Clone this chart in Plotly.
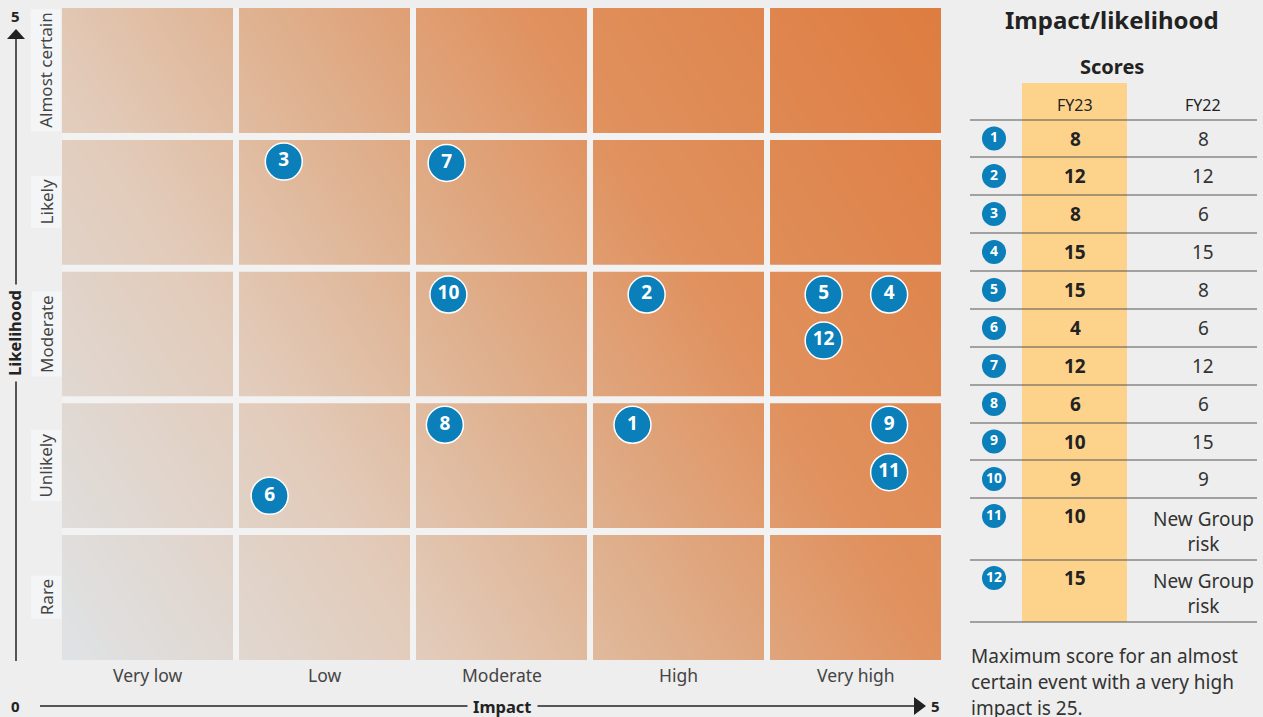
import plotly.graph_objects as go

# ---------------- data ----------------
impact_labels = ["Very low", "Low", "Moderate", "High", "Very high"]
likelihood_labels = ["Rare", "Unlikely", "Moderate", "Likely", "Almost certain"]

risk_ids = [1, 2, 3, 4, 5, 6, 7, 8, 9, 10, 11, 12]
risk_impact = [3.24, 3.32, 1.27, 4.69, 4.32, 1.19, 2.19, 2.18, 4.69, 2.20, 4.69, 4.32]
risk_likelihood = [1.81, 2.80, 3.81, 2.80, 2.80, 1.27, 3.80, 1.81, 1.81, 2.80, 1.45, 2.45]

fy23_scores = [8, 12, 8, 15, 15, 4, 12, 6, 10, 9, 10, 15]
fy22_scores = ["8", "12", "6", "15", "8", "6", "12", "6", "15", "9",
               "New Group<br>risk", "New Group<br>risk"]

# gradient corner levels (bottom-left, bottom-right / top-left, top-right)
grad_z = [[0.0, 0.68], [0.32, 1.0]]

# ---------------- style ----------------
FONT = "Noto Sans"
BG = "#eeeeee"
GAP = "#f2f2f2"
BLUE = "#0a7fba"
TXT = "#333333"
W, H = 1263, 717

fig = go.Figure()

fig.add_trace(go.Heatmap(
    x=[0, 5], y=[0, 5], z=grad_z, zsmooth="best", zmin=0, zmax=1,
    colorscale=[[0, "#dfe3e6"], [0.3, "#e2cab8"], [0.47, "#dfb18f"],
                [0.68, "#e0915e"], [1, "#de7c40"]],
    showscale=False, hoverinfo="skip"))

fig.add_trace(go.Scatter(
    x=risk_impact, y=risk_likelihood, mode="markers+text",
    text=[f"<b>{i}</b>" for i in risk_ids], textposition="middle center",
    textfont=dict(color="white", size=19, family=FONT),
    marker=dict(size=37, color=BLUE, line=dict(color="white", width=1.5)),
    hoverinfo="skip", showlegend=False))

# table geometry (pixel overlay axes)
table_lines_y = [120, 157, 195, 233, 271, 309, 347, 385, 423, 460, 498, 560, 622]
row_text_y = []
for k in range(12):
    top, bot = table_lines_y[k], table_lines_y[k + 1]
    row_text_y.append((top + bot) / 2 if bot - top < 45 else top + 18)

fig.add_trace(go.Scatter(
    x=[994] * len(risk_ids), y=row_text_y, xaxis="x2", yaxis="y2",
    mode="markers+text", text=[f"<b>{i}</b>" for i in risk_ids],
    textposition="middle center",
    textfont=dict(color="white", size=14, family=FONT),
    marker=dict(size=24, color=BLUE, line=dict(width=0)),
    hoverinfo="skip", showlegend=False))

shapes = []
ann = []

# cell gaps
for i in range(1, 5):
    shapes.append(dict(type="line", xref="x", yref="y", x0=i, x1=i, y0=0, y1=5,
                       line=dict(color=GAP, width=6), layer="above"))
    shapes.append(dict(type="line", xref="x", yref="y", x0=0, x1=5, y0=i, y1=i,
                       line=dict(color=GAP, width=7), layer="above"))
shapes.append(dict(type="rect", xref="x", yref="y", x0=0, x1=5, y0=0, y1=5,
                   line=dict(color=BG, width=6), layer="above"))

# axis arrows
AX = "#222222"
shapes += [
    dict(type="line", xref="x2", yref="y2", x0=16, x1=16, y0=661, y1=37,
         line=dict(color=AX, width=1.5)),
    dict(type="path", xref="x2", yref="y2", path="M 7,39 L 25,39 L 16,29 Z",
         fillcolor=AX, line=dict(width=0)),
    dict(type="line", xref="x2", yref="y2", x0=40, x1=916, y0=706, y1=706,
         line=dict(color=AX, width=1.5)),
    dict(type="path", xref="x2", yref="y2", path="M 914,697 L 914,715 L 926,706 Z",
         fillcolor=AX, line=dict(width=0)),
]

# table column highlight and lines
shapes.append(dict(type="rect", xref="x2", yref="y2", x0=1022, x1=1127, y0=83, y1=622,
                   fillcolor="#fdd38c", line=dict(width=0), layer="below"))
for yl in table_lines_y:
    shapes.append(dict(type="line", xref="x2", yref="y2", x0=970, x1=1257, y0=yl, y1=yl,
                       line=dict(color="#555555", width=1.2)))

# y category labels
for j, lab in enumerate(likelihood_labels):
    ann.append(dict(xref="x2", yref="y", x=46, y=j + 0.5, text=lab, textangle=-90,
                    showarrow=False, font=dict(family=FONT, size=17, color="#444444"),
                    bgcolor="#f4f5f7", borderpad=3))
# x category labels
for i, lab in enumerate(impact_labels):
    ann.append(dict(xref="x", yref="y2", x=i + 0.5, y=675, text=lab, showarrow=False,
                    font=dict(family=FONT, size=17.5, color="#444444")))

# axis titles and ends
ann += [
    dict(xref="x2", yref="y2", x=14, y=333, text="<b>Likelihood</b>", textangle=-90,
         showarrow=False, bgcolor=BG, borderpad=5,
         font=dict(family=FONT, size=16.5, color="#222222")),
    dict(xref="x2", yref="y2", x=502, y=706, text="<b>Impact</b>", showarrow=False,
         bgcolor=BG, borderpad=5, font=dict(family=FONT, size=16.5, color="#222222")),
    dict(xref="x2", yref="y2", x=15, y=16, text="<b>5</b>", showarrow=False,
         font=dict(family=FONT, size=15, color="#222222")),
    dict(xref="x2", yref="y2", x=15, y=706, text="<b>0</b>", showarrow=False,
         font=dict(family=FONT, size=15, color="#222222")),
    dict(xref="x2", yref="y2", x=935, y=706, text="<b>5</b>", showarrow=False,
         font=dict(family=FONT, size=15, color="#222222")),
]

# table texts
ann += [
    dict(xref="x2", yref="y2", x=1112, y=19, text="<b>Impact/likelihood</b>", showarrow=False,
         font=dict(family=FONT, size=24, color="#222222")),
    dict(xref="x2", yref="y2", x=1112, y=66, text="<b>Scores</b>", showarrow=False,
         font=dict(family=FONT, size=20, color="#222222")),
    dict(xref="x2", yref="y2", x=1075, y=105, text="FY23", showarrow=False,
         font=dict(family=FONT, size=16, color="#222222")),
    dict(xref="x2", yref="y2", x=1203, y=105, text="FY22", showarrow=False,
         font=dict(family=FONT, size=16, color="#222222")),
]
for k in range(12):
    ann.append(dict(xref="x2", yref="y2", x=1075, y=row_text_y[k], text=f"<b>{fy23_scores[k]}</b>",
                    showarrow=False, font=dict(family=FONT, size=19, color="#222222")))
    multi = "<br>" in fy22_scores[k]
    ann.append(dict(xref="x2", yref="y2", x=1203, y=row_text_y[k] - 12 if multi else row_text_y[k],
                    yanchor="top" if multi else "middle",
                    text=fy22_scores[k], showarrow=False,
                    font=dict(family=FONT, size=19, color="#333333")))

foot = ["Maximum score for an almost", "certain event with a very high", "impact is 25."]
for n, line in enumerate(foot):
    ann.append(dict(xref="x2", yref="y2", x=969, y=656 + 26 * n, text=line, xanchor="left",
                    showarrow=False, font=dict(family=FONT, size=19, color=TXT)))

fig.update_layout(
    width=W, height=H, margin=dict(l=0, r=0, t=0, b=0),
    paper_bgcolor=BG, plot_bgcolor="rgba(0,0,0,0)", showlegend=False,
    xaxis=dict(domain=[59 / W, 944 / W], range=[0, 5], visible=False, fixedrange=True),
    yaxis=dict(domain=[1 - 663 / H, 1 - 5 / H], range=[0, 5], visible=False, fixedrange=True),
    xaxis2=dict(domain=[0, 1], range=[0, W], visible=False, anchor="y2", fixedrange=True),
    yaxis2=dict(domain=[0, 1], range=[H, 0], visible=False, anchor="x2", fixedrange=True),
    shapes=shapes, annotations=ann,
)

fig.write_html("out.html")
